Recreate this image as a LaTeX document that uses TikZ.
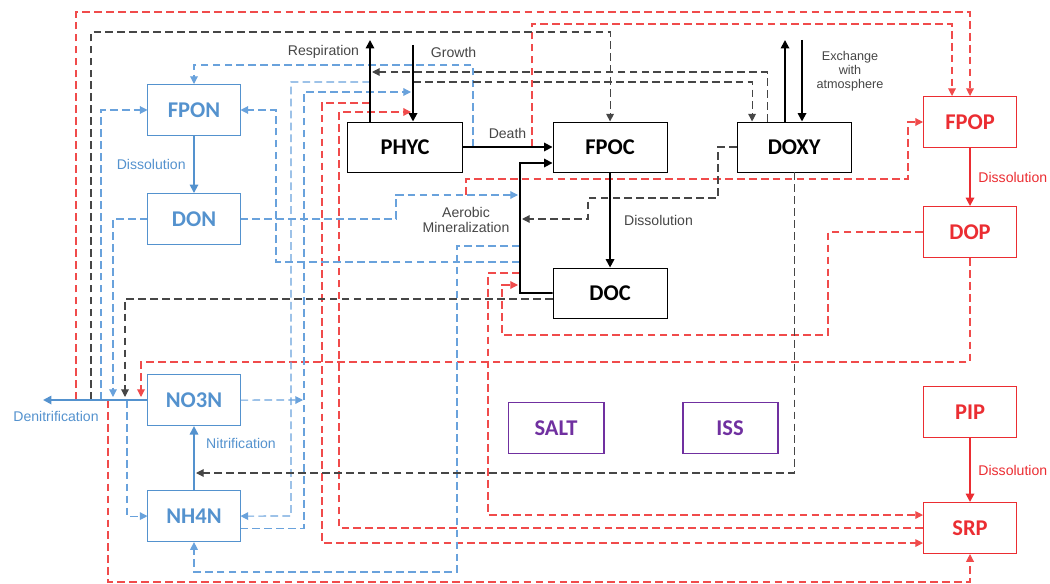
\documentclass[tikz,border=0pt]{standalone}
\usepackage{fontspec}
\setmainfont{Liberation Sans}
\newfontfamily\boxfont{Carlito}
\usetikzlibrary{shapes.geometric, arrows.meta}
\definecolor{nblue}{RGB}{84,146,206}
\definecolor{lblue}{RGB}{105,162,220}
\definecolor{nred}{RGB}{235,45,50}
\definecolor{lred}{RGB}{240,75,75}
\definecolor{npurple}{RGB}{112,48,160}
\definecolor{kgray}{RGB}{70,70,70}
\tikzstyle{box} = [draw, fill=white, rectangle, line width=0.7pt,
    minimum height=1.275cm, font=\boxfont\bfseries\fontsize{16}{18}\selectfont]
\tikzstyle{nbox} = [box, draw=nblue, text=nblue, minimum width=2.3cm]
\tikzstyle{cbox} = [box, draw=black, minimum width=2.85cm, minimum height=1.25cm]
\tikzstyle{pbox} = [box, draw=nred, text=nred, minimum width=2.325cm]
\tikzstyle{sbox} = [box, draw=npurple, text=npurple, line width=1.4pt, minimum width=2.375cm]
\tikzstyle{flow} = [-{Triangle[length=6pt,width=6pt]}, line width=1.3pt]
\tikzstyle{dflow} = [line width=0.8pt, dash pattern=on 5.5pt off 3pt]
\tikzstyle{tip} = [-{Triangle[length=5.5pt,width=5.5pt]}]
\tikzstyle{bd} = [dflow, lblue]
\tikzstyle{rd} = [dflow, lred]
\tikzstyle{kd} = [dflow, kgray]
\tikzstyle{lbl} = [font=\fontsize{10}{12}\selectfont, text=kgray]

\begin{document}
\begin{tikzpicture}[x=0.025cm, y=-0.025cm, node distance=2cm]
    \useasboundingbox (0,0) rectangle (1050,584);

    % nitrogen
    \node [nbox] at (194,110) (fpon) {FPON};
    \node [nbox, below of=fpon, node distance=2.725cm] (don) {DON};
    \node [nbox, below of=don, node distance=4.525cm] (no3n) {NO3N};
    \node [nbox, below of=no3n, node distance=2.9cm] (nh4n) {NH4N};

    % carbon and oxygen
    \node [cbox] at (405,147) (phyc) {PHYC};
    \node [cbox, right of=phyc, node distance=5.125cm] (fpoc) {FPOC};
    \node [cbox, right of=fpoc, node distance=4.6cm] (doxy) {DOXY};
    \node [cbox, below of=fpoc, node distance=3.65cm] (doc) {DOC};

    % phosphorus
    \node [pbox] at (970,122) (fpop) {FPOP};
    \node [pbox, below of=fpop, node distance=2.75cm] (dop) {DOP};
    \node [pbox] at (970,412) (pip) {PIP};
    \node [pbox, below of=pip, node distance=2.9cm] (srp) {SRP};

    \node [sbox] at (556,428) (salt) {SALT};
    \node [sbox, right of=salt, node distance=4.35cm] (iss) {ISS};

    \coordinate (den) at (43,400);
    \coordinate (resp) at (370,40);
    \coordinate (grow) at (413,45);
    \coordinate (exup) at (785,40);
    \coordinate (exdn) at (802,40);

    % red dashed
    \draw [rd, tip] (76,400) -- (76,12) -| (fpop.north);
    \draw [rd, tip] (108,400) -- (108,582) -| (srp.south);
    \draw [rd, tip] (532,147) -- (532,24) -| ([xshift=-0.45cm]fpop.north);
    \draw [rd, tip] (370,103) -- (322,103) |- ([yshift=-0.375cm]srp.west);
    \draw [rd, tip] (srp.west) -| (339,112) -- (411,112);
    \draw [rd, tip] (520,273) -- (488,273) |- ([yshift=0.325cm]srp.west);
    \draw [rd, tip] (dop.west) -| (828,335) -| (502,285) -- (518,285);
    \draw [rd, tip] (dop.south) -- (970,362) -| (141,397);
    \draw [rd, tip] (466,195) -- (466,179) -| (908,122) -- (fpop.west);

    % blue dashed
    \draw [bd, tip] (473,147) -- (473,65) -| (fpon.north);
    \draw [bd, tip] (101,400) |- (fpon.west);
    \draw [bd, tip] (520,262) -| (276,110) -- (fpon.east);
    \draw [bd, tip] (520,246) -| (457,572) -| (nh4n.south);
    \draw [bd, tip] (don.east) -| (396,195) -- (518,195);
    \draw [bd, tip] (don.west) -| (113,397);
    \draw [bd, tip] (370,82) -| (291,516) -- (nh4n.east);
    \draw [bd, tip] ([yshift=-0.3cm]nh4n.east) -| (304,92) -- (411,92);
    \draw [bd, tip] (no3n.east) -- (303,400);
    \draw [bd, tip] (127,400) |- (nh4n.west);

    % black dashed
    \draw [kd, tip] (91,400) -- (91,32) -| (fpoc.north);
    \draw [kd, tip] ([xshift=-0.675cm]doxy.north) |- (372,72);
    \draw [kd, tip] (413,82) -| ([xshift=-1.05cm]doxy.north);
    \draw [kd, tip] (doxy.west) -| (718,198) -| (588,219) -- (522,219);
    \draw [kd, tip] ([yshift=-0.15cm]doc.west) -| (125,397);
    \draw [kd, tip] (doxy.south) |- (196,473);

    % solid fluxes
    \draw [flow, nblue] (fpon) -- (don) node [midway, left=2pt, lbl, text=nblue] {Dissolution};
    \draw [flow, nblue] (nh4n) -- (no3n);
    \node [lbl, text=nblue] at (241,443) (nitl) {Nitrification};
    \draw [flow, nblue] (no3n.west) -- (den);
    \node [lbl, text=nblue] at (56,416) (denl) {Denitrification};

    \draw [flow] (phyc.north -| resp) -- (resp);
    \draw [flow] (grow) -- (phyc.north -| grow);
    \node [lbl, anchor=east] at (364,52) (respl) {Respiration};
    \node [lbl, anchor=west] at (426,52) (growl) {Growth};
    \draw [flow] (phyc) -- (fpoc) node [midway, above=2pt, lbl] {Death};
    \draw [flow] (doc.west) -| (520,163) -- ([yshift=-0.4cm]fpoc.west);
    \node [lbl, align=center] at (466,220) (aerl) {Aerobic\\[-2pt]Mineralization};
    \draw [flow] (fpoc) -- (doc) node [midway, right=6pt, lbl] {Dissolution};

    \draw [flow] (doxy.north -| exup) -- (exup);
    \draw [flow] (exdn) -- (doxy.north -| exdn);
    \node [lbl, align=center, font=\fontsize{9}{10}\selectfont] at (850,71) (exl) {Exchange\\with\\atmosphere};

    \draw [flow, nred] (fpop) -- (dop) node [midway, right=2pt, lbl, text=nred] {Dissolution};
    \draw [flow, nred] (pip) -- (srp) node [midway, right=2pt, lbl, text=nred] {Dissolution};

\end{tikzpicture}
\end{document}
